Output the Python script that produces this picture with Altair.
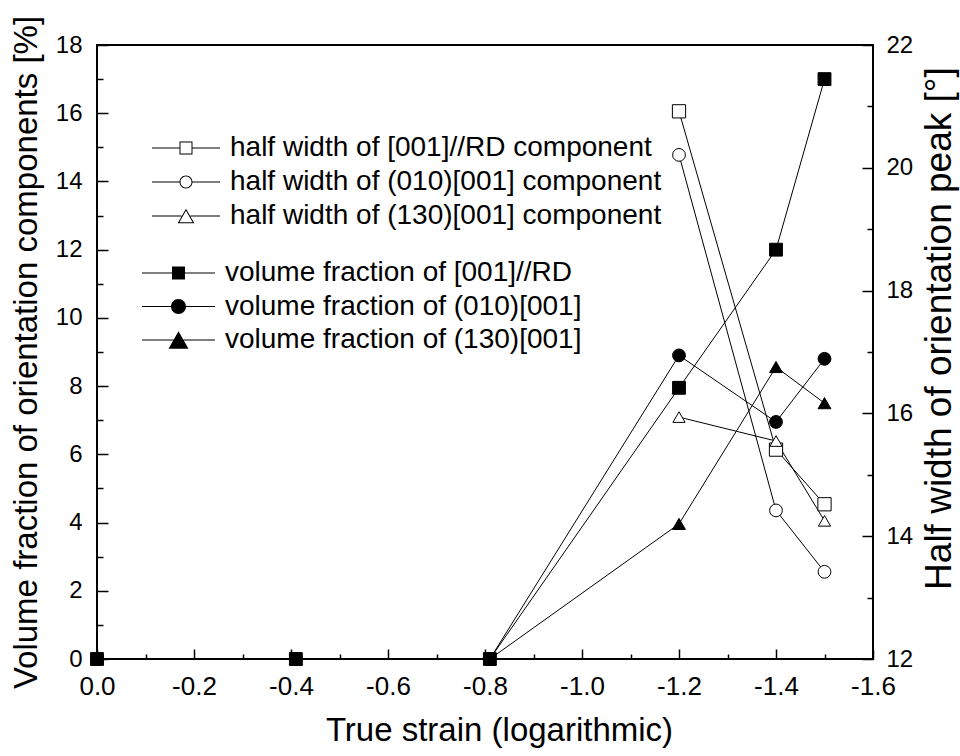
import altair as alt
import pandas as pd

# ---------------- data ----------------
strain = [0.0, -0.41, -0.81, -1.2, -1.4, -1.5]
vf_001_rd = [0.0, 0.0, 0.0, 7.95, 12.0, 17.0]
vf_010 = [0.0, 0.0, 0.0, 8.9, 6.95, 8.8]
vf_130 = [0.0, 0.0, 0.0, 3.96, 8.56, 7.5]

hw_strain = [-1.2, -1.4, -1.5]
hw_001_rd = [20.92, 15.41, 14.52]
hw_010 = [20.21, 14.42, 13.42]
hw_130 = [15.94, 15.55, 14.25]

vf_names = ["volume fraction of [001]//RD",
            "volume fraction of (010)[001]",
            "volume fraction of (130)[001]"]
hw_names = ["half width of [001]//RD component",
            "half width of (010)[001] component",
            "half width of (130)[001] component"]

x_major = [0.0, -0.2, -0.4, -0.6, -0.8, -1.0, -1.2, -1.4, -1.6]
x_minor = [-0.1, -0.3, -0.5, -0.7, -0.9, -1.1, -1.3, -1.5]
yl_major = [0, 2, 4, 6, 8, 10, 12, 14, 16, 18]
yl_minor = [1, 3, 5, 7, 9, 11, 13, 15, 17]
yr_major = [12, 14, 16, 18, 20, 22]
yr_minor = [13, 15, 17, 19, 21]

vf_df = pd.DataFrame({
    "strain": strain * 3,
    "value": vf_001_rd + vf_010 + vf_130,
    "series": [vf_names[0]] * 6 + [vf_names[1]] * 6 + [vf_names[2]] * 6,
    "ord": [0] * 6 + [1] * 6 + [2] * 6,
})
hw_df = pd.DataFrame({
    "strain": hw_strain * 3,
    "value": hw_001_rd + hw_010 + hw_130,
    "series": [hw_names[0]] * 3 + [hw_names[1]] * 3 + [hw_names[2]] * 3,
})

# ---------------- layout ----------------
W, H = 776, 614
FONT = "Liberation Sans"

xscale = alt.Scale(domain=[-1.6, 0], reverse=True, nice=False, zero=False)
ylscale = alt.Scale(domain=[0, 18], nice=False, zero=False)
yrscale = alt.Scale(domain=[12, 22], nice=False, zero=False)

x_label_expr = "datum.value == 0 ? '0.0' : '-' + format(-datum.value, '.1f')"


def tick_axis(orient, offset, values, size):
    return alt.Axis(orient=orient, offset=offset, values=values, labels=False,
                    domain=False, grid=False, ticks=True, tickSize=size,
                    tickWidth=1.5, tickColor="black", title=None)


marker_shapes = ["square", "circle", "triangle-up"]

# legend symbols (fill-only paths): a thin line with a marker in the middle
LF = "M-1,-0.0137H{a}V0.0137H-1Z M{b},-0.0137H1V0.0137H{b}Z "
filled_paths = [
    LF.format(a=-0.178, b=0.178) + "M-0.178,-0.178H0.178V0.178H-0.178Z",
    LF.format(a=-0.2, b=0.2) + "M0.205,0A0.205,0.205 0 1,1 -0.205,0A0.205,0.205 0 1,1 0.205,0Z",
    LF.format(a=-0.137, b=0.137) + "M0,-0.238L0.274,0.238L-0.274,0.238Z",
]
LO = "M-1,-0.0147H{a}V0.0147H-1Z M{b},-0.0147H1V0.0147H{b}Z "
open_paths = [
    LO.format(a=-0.191, b=0.191)
    + "M-0.191,-0.191H0.191V0.191H-0.191Z M-0.162,-0.162V0.162H0.162V-0.162Z",
    LO.format(a=-0.19, b=0.19)
    + "M0.191,0A0.191,0.191 0 1,1 -0.191,0A0.191,0.191 0 1,1 0.191,0Z "
    + "M0.162,0A0.162,0.162 0 1,0 -0.162,0A0.162,0.162 0 1,0 0.162,0Z",
    LO.format(a=-0.13, b=0.13)
    + "M0,-0.212L0.245,0.212L-0.245,0.212Z M0,-0.153L-0.194,0.183L0.194,0.183Z",
]


def legend(x, y, size, row_pad):
    return alt.Legend(
        orient="none", legendX=x, legendY=y, title=None,
        symbolSize=size * size, symbolStrokeWidth=0,
        symbolFillColor="black", symbolOpacity=1,
        labelFontSize=28, labelFont=FONT,
        labelColor="black", labelLimit=0, labelOffset=10,
        clipHeight=22, rowPadding=row_pad, padding=0, offset=0)


# ---------------- left (volume fraction) ----------------
base_l = alt.Chart(vf_df)

l_line = base_l.mark_line(color="black", strokeWidth=1).encode(
    x=alt.X("strain:Q", scale=xscale, axis=alt.Axis(
        orient="bottom", values=x_major, labelExpr=x_label_expr, ticks=False,
        domain=False, grid=False, labelFontSize=26, labelFont=FONT,
        labelColor="black", labelPadding=14, labelFlush=False,
        labelOverlap=False, title="True strain (logarithmic)",
        titleFontSize=33, titleFont=FONT, titleFontWeight="normal",
        titleColor="black", titlePadding=15, titleX=402)),
    y=alt.Y("value:Q", scale=ylscale, axis=alt.Axis(
        orient="left", values=yl_major, ticks=False, domain=False, grid=False,
        labelFontSize=24, labelFont=FONT, labelColor="black", labelPadding=15,
        labelFlush=False, labelOverlap=False,
        title="Volume fraction of orientation components [%]",
        titleFontSize=33, titleFont=FONT, titleFontWeight="normal",
        titleColor="black", titlePadding=12)),
    detail="series:N",
)

l_pts = base_l.mark_point(filled=True, fill="black", stroke="black",
                          strokeWidth=1, opacity=1).encode(
    x=alt.X("strain:Q", scale=xscale, axis=tick_axis("top", -H, x_major, 10)),
    y=alt.Y("value:Q", scale=ylscale, axis=tick_axis("right", -W, yl_major, 11)),
    shape=alt.Shape("series:N", scale=alt.Scale(domain=vf_names, range=marker_shapes),
                    legend=None),
    size=alt.Size("series:N", scale=alt.Scale(domain=vf_names, range=[165, 165, 380]),
                  legend=None),
    order=alt.Order("ord:Q"),
)

l_minor = base_l.mark_point(opacity=0).encode(
    x=alt.X("strain:Q", scale=xscale, axis=tick_axis("top", -H, x_minor, 5)),
    y=alt.Y("value:Q", scale=ylscale, axis=tick_axis("right", -W, yl_minor, 6)),
)

l_legend = base_l.mark_point(filled=True, color="black", opacity=1).encode(
    shape=alt.Shape("series:N", scale=alt.Scale(domain=vf_names, range=filled_paths),
                    legend=legend(45, 271 - 9 - 45, 73, 5.5)),
).transform_filter("false")

left = alt.layer(l_line, l_pts, l_minor, l_legend).resolve_scale(
    shape="independent", size="independent").resolve_axis(x="independent", y="independent")

# ---------------- right (half width) ----------------
base_r = alt.Chart(hw_df)

r_line = base_r.mark_line(color="black", strokeWidth=1).encode(
    x=alt.X("strain:Q", scale=xscale, axis=None),
    y=alt.Y("value:Q", scale=yrscale, axis=alt.Axis(
        orient="right", values=yr_major, ticks=False, domain=False, grid=False,
        labelFontSize=24, labelFont=FONT, labelColor="black", labelPadding=13,
        labelFlush=False, labelOverlap=False,
        title="Half width of orientation peak [°]",
        titleFontSize=37, titleFont=FONT, titleFontWeight="normal",
        titleColor="black", titlePadding=9, titleY=283,
        titleAngle=270, titleBaseline="top")),
    detail="series:N",
)

r_pts = base_r.mark_point(filled=True, fill="white", stroke="black",
                          strokeWidth=1, opacity=1).encode(
    x=alt.X("strain:Q", scale=xscale, axis=None),
    y=alt.Y("value:Q", scale=yrscale, axis=tick_axis("left", -W, yr_major, 11)),
    shape=alt.Shape("series:N", scale=alt.Scale(domain=hw_names, range=marker_shapes),
                    legend=None),
    size=alt.Size("series:N", scale=alt.Scale(domain=hw_names, range=[175, 150, 380]),
                  legend=None),
)

r_minor = base_r.mark_point(opacity=0).encode(
    x=alt.X("strain:Q", scale=xscale, axis=None),
    y=alt.Y("value:Q", scale=yrscale, axis=tick_axis("left", -W, yr_minor, 6)),
)

r_legend = base_r.mark_point(filled=True, color="black", opacity=1).encode(
    shape=alt.Shape("series:N", scale=alt.Scale(domain=hw_names, range=open_paths),
                    legend=legend(55, 147 - 10 - 45, 68, 6)),
).transform_filter("false")

right = alt.layer(r_line, r_pts, r_minor, r_legend).resolve_scale(
    shape="independent", size="independent").resolve_axis(y="independent")

chart = alt.layer(left, right).resolve_scale(
    y="independent", shape="independent", size="independent"
).resolve_axis(x="independent", y="independent").properties(
    width=W, height=H,
    autosize=alt.AutoSizeParams(type="none"),
    padding={"left": 97, "top": 45, "right": 960 - 97 - W, "bottom": 756 - 45 - H},
    background="white",
).configure_view(stroke="black", strokeWidth=2)

chart.save("out.html", embed_options={"renderer": "svg", "actions": False})
